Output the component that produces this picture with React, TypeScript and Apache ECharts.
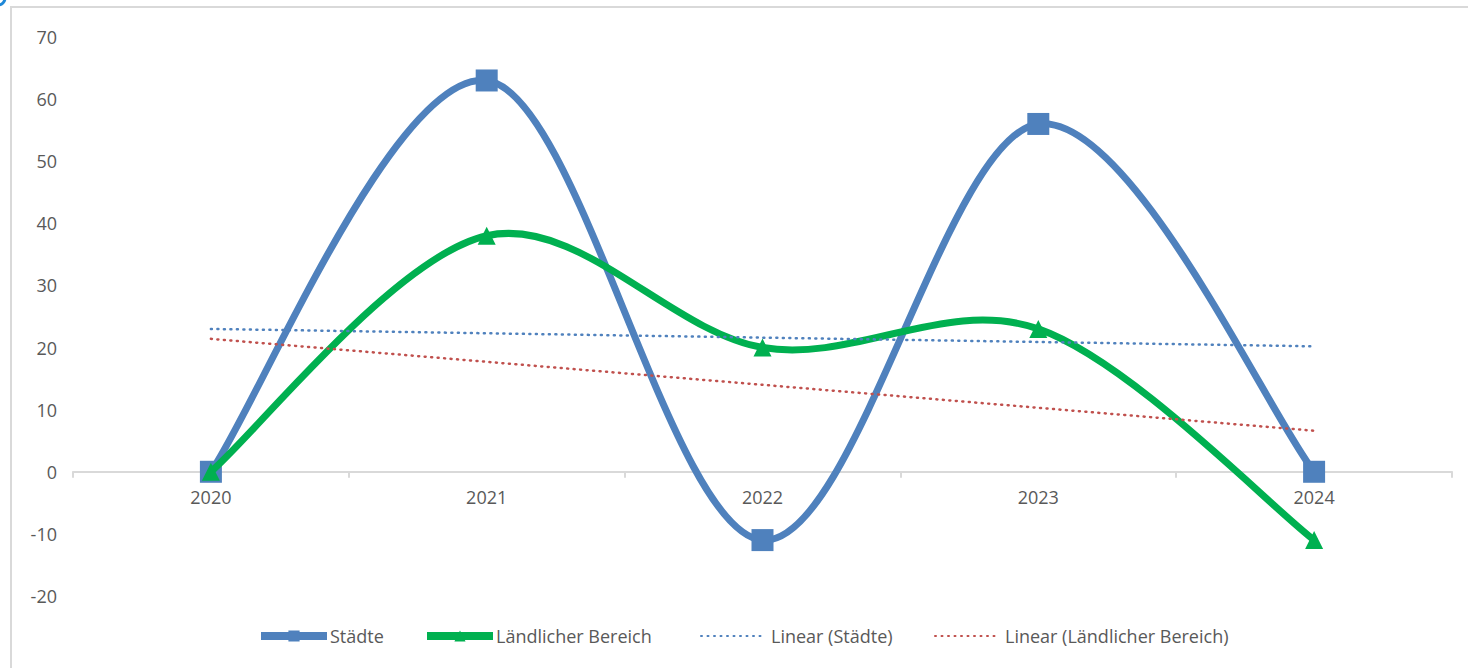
import React, { useEffect, useRef } from "react";
import * as echarts from "echarts";

const years = ["2020", "2021", "2022", "2023", "2024"];
const staedte = [0, 63, -11, 56, 0];
const laendlich = [0, 38, 20, 23, -11];
const trendStaedte = [23, 22.3, 21.6, 20.9, 20.2];
const trendLaendlich = [21.4, 17.7, 14, 10.3, 6.6];
const yTicks = { min: -20, max: 70, interval: 10 };

const FONT = "'Open Sans', 'Noto Sans', sans-serif";
const TXT = "#595959";
const BLUE = "#4f81bd";
const GREEN = "#00b050";
const RED = "#c0504d";

// Excel-like smoothed line (Catmull-Rom through the points, computed in pixel space via the axes)
function smoothRenderer(values: number[], color: string) {
  return (params: any, api: any) => {
    if (params.dataIndex !== 0) return null;
    const pts = values.map((v, i) => api.coord([i, v]));
    const n = pts.length;
    let d = `M${pts[0][0]},${pts[0][1]}`;
    for (let i = 0; i < n - 1; i++) {
      const p0 = pts[Math.max(i - 1, 0)];
      const p1 = pts[i];
      const p2 = pts[i + 1];
      const p3 = pts[Math.min(i + 2, n - 1)];
      const c1x = p1[0] + (p2[0] - p0[0]) / 6;
      const c1y = p1[1] + (p2[1] - p0[1]) / 6;
      const c2x = p2[0] - (p3[0] - p1[0]) / 6;
      const c2y = p2[1] - (p3[1] - p1[1]) / 6;
      d += ` C${c1x},${c1y} ${c2x},${c2y} ${p2[0]},${p2[1]}`;
    }
    return {
      type: "path",
      shape: { pathData: d },
      style: { stroke: color, lineWidth: 7, fill: "none", lineCap: "round", lineJoin: "round" },
    };
  };
}

export default function App() {
  const ref = useRef<HTMLDivElement>(null);
  useEffect(() => {
    if (!ref.current) return;
    const chart = echarts.init(ref.current, null, { renderer: "svg" });
    const textBase = { color: TXT, fontSize: 18, fontFamily: FONT };
    const legendBase = {
      orient: "horizontal",
      top: 627,
      padding: 0,
      itemWidth: 66,
      itemHeight: 16,
      itemGap: 0,
      textStyle: { ...textBase, padding: [0, 0, 0, -2] },
    };
    chart.setOption({
      animation: false,
      backgroundColor: "#ffffff",
      textStyle: { fontFamily: FONT },
      grid: { left: 73, right: 16, top: 37, bottom: 72, containLabel: false },
      xAxis: {
        type: "category",
        data: years,
        boundaryGap: true,
        axisLine: { onZero: true, lineStyle: { color: "#d9d9d9", width: 2 } },
        axisTick: { show: true, interval: 0, length: 6, lineStyle: { color: "#d9d9d9", width: 2 } },
        axisLabel: { ...textBase, margin: -108, interval: 0 },
        splitLine: { show: false },
      },
      yAxis: {
        type: "value",
        min: yTicks.min,
        max: yTicks.max,
        interval: yTicks.interval,
        axisLine: { show: false },
        axisTick: { show: false },
        splitLine: { show: false },
        axisLabel: { ...textBase, margin: 16 },
      },
      legend: [
        { ...legendBase, left: 257, data: ["Städte"], itemHeight: 14, lineStyle: { width: 8, opacity: 1, color: BLUE } },
        { ...legendBase, left: 423, data: ["Ländlicher Bereich"], itemHeight: 14, lineStyle: { width: 8, opacity: 1, color: GREEN } },
        { ...legendBase, left: 700, itemWidth: 60, data: ["Linear (Städte)"], itemStyle: { opacity: 0 }, textStyle: { ...textBase, padding: [0, 0, 0, 5] } },
        { ...legendBase, left: 934, itemWidth: 60, data: ["Linear (Ländlicher Bereich)"], itemStyle: { opacity: 0 }, textStyle: { ...textBase, padding: [0, 0, 0, 5] } },
      ],
      series: [
        {
          name: "Städte-Kurve",
          type: "custom",
          data: staedte.map((v, i) => [i, v]),
          renderItem: smoothRenderer(staedte, BLUE),
          z: 2,
          silent: true,
        },
        {
          name: "Städte",
          type: "line",
          data: staedte,
          symbol: "rect",
          symbolSize: 22,
          itemStyle: { color: BLUE },
          lineStyle: { color: BLUE, width: 7, opacity: 0 },
          z: 3,
        },
        {
          name: "Ländlicher-Kurve",
          type: "custom",
          data: laendlich.map((v, i) => [i, v]),
          renderItem: smoothRenderer(laendlich, GREEN),
          z: 4,
          silent: true,
        },
        {
          name: "Ländlicher Bereich",
          type: "line",
          data: laendlich,
          symbol: "triangle",
          symbolSize: 18,
          itemStyle: { color: GREEN },
          lineStyle: { color: GREEN, width: 7, opacity: 0 },
          z: 5,
        },
        {
          name: "Linear (Städte)",
          type: "line",
          data: trendStaedte,
          symbol: "none",
          itemStyle: { color: BLUE },
          lineStyle: { color: BLUE, width: 2.5, type: [1, 5.5], cap: "round" },
          z: 6,
        },
        {
          name: "Linear (Ländlicher Bereich)",
          type: "line",
          data: trendLaendlich,
          symbol: "none",
          itemStyle: { color: RED },
          lineStyle: { color: RED, width: 2.5, type: [1, 5.5], cap: "round" },
          z: 6,
        },
      ],
      graphic: [
        {
          type: "rect",
          shape: { x: 11, y: 7, width: 1470, height: 680 },
          style: { fill: "none", stroke: "#d9d9d9", lineWidth: 2 },
          silent: true,
        },
        {
          type: "arc",
          shape: { cx: -2, cy: -2, r: 7, startAngle: 0, endAngle: Math.PI / 2 },
          style: { stroke: "#1e88d8", lineWidth: 3, fill: "none" },
          silent: true,
        },
      ],
    });
    return () => chart.dispose();
  }, []);
  return (
    <div
      ref={ref}
      style={{ position: "absolute", left: 0, top: 0, width: 1468, height: 668 }}
    />
  );
}
